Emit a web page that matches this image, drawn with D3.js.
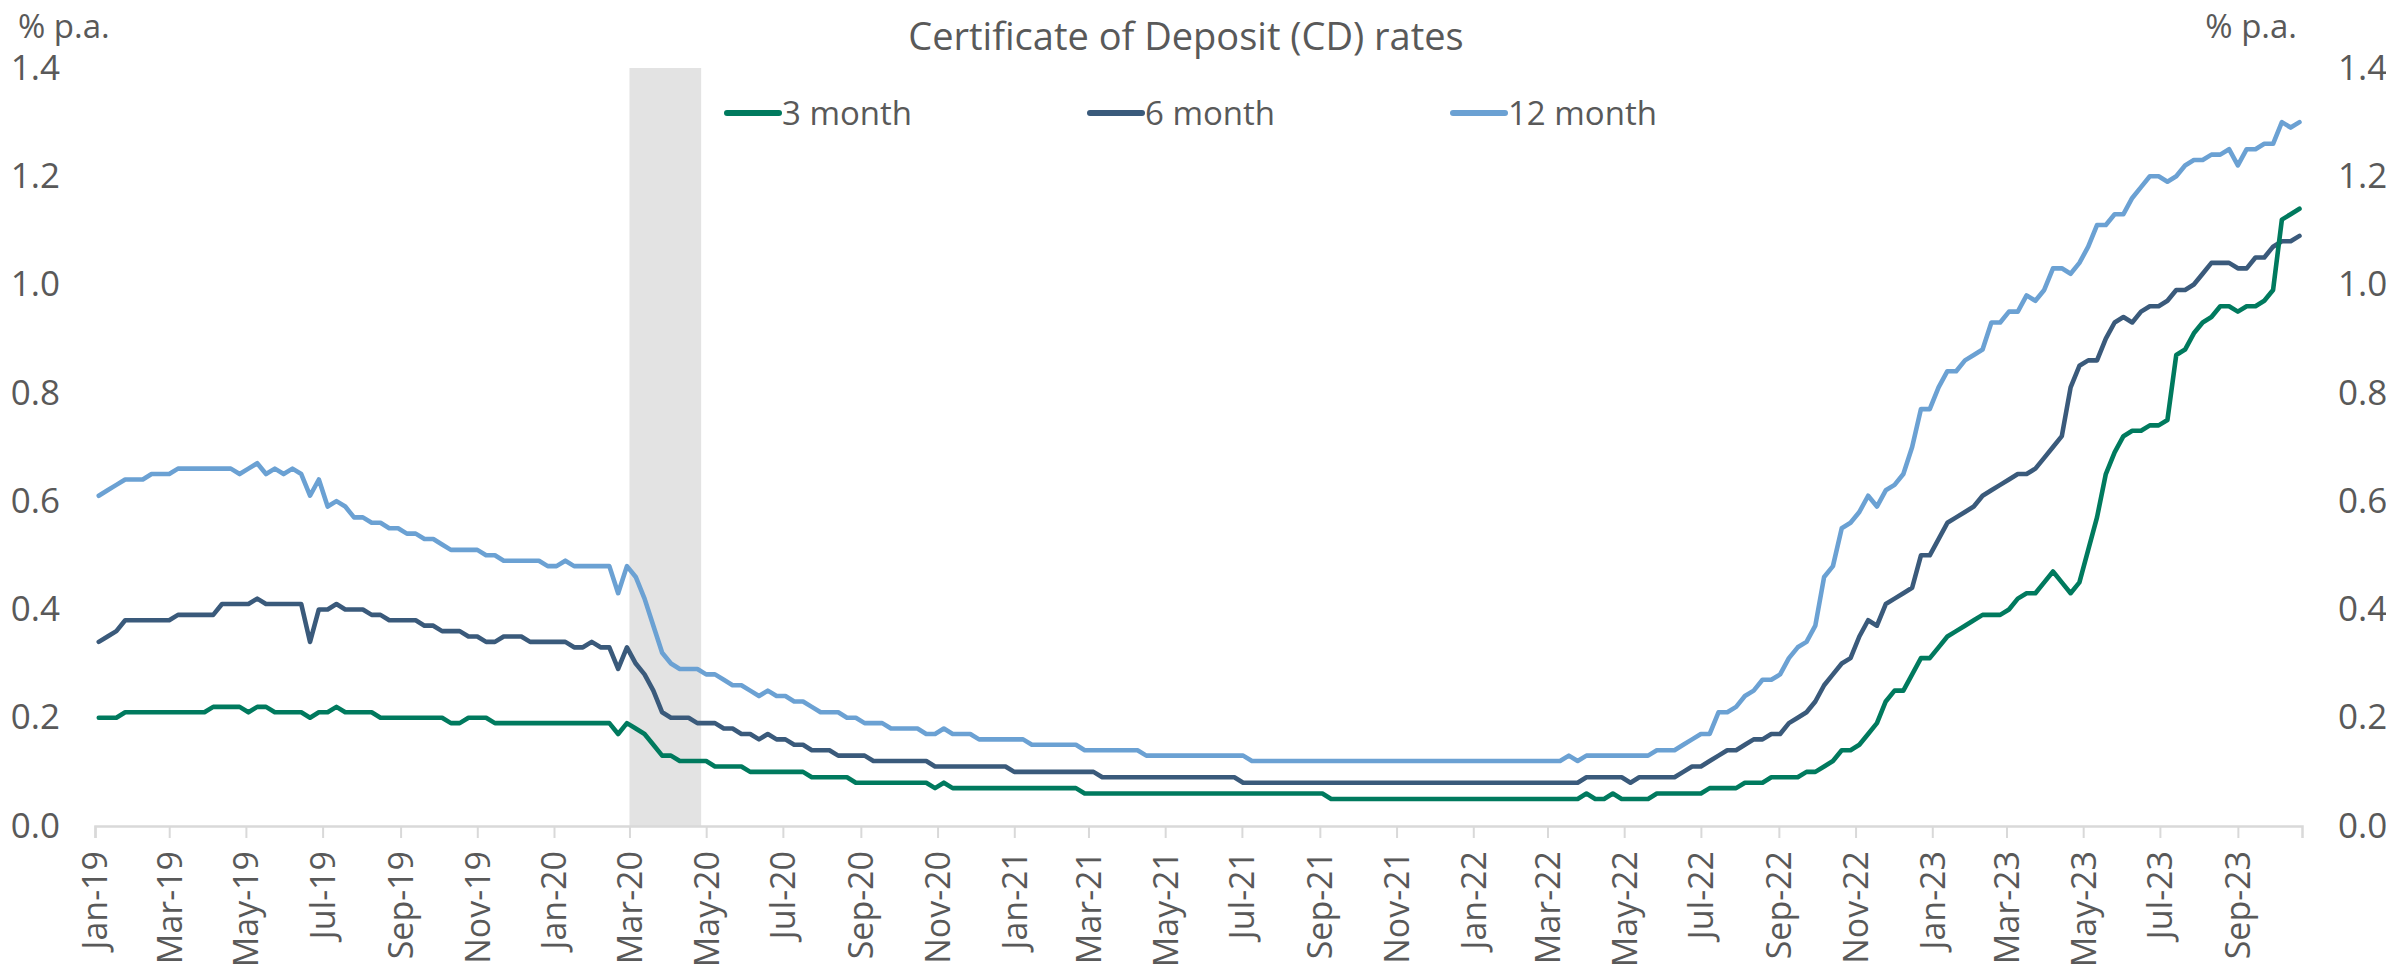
<!DOCTYPE html>
<html>
<head>
<meta charset="utf-8">
<script src="https://cdn.jsdelivr.net/npm/d3@7"></script>
<style>
  html, body { margin: 0; padding: 0; background: #ffffff; }
  svg { display: block; }
  text { font-family: "Open Sans", "Noto Sans", sans-serif; fill: #595959; }
</style>
</head>
<body>
<svg id="chart" width="2386" height="966"></svg>
<script>
// Weekly observations, first one on this Friday
const firstWeek = "2019-01-04";

const seriesNames = ["3 month", "6 month", "12 month"];
const seriesColors = ["#007A5E", "#3A5A7B", "#6BA1D3"];

// 3 month CD rate, % p.a.
const rates3m = [
  0.20,0.20,0.20,0.21,0.21,0.21,0.21,0.21,0.21,0.21,
  0.21,0.21,0.21,0.22,0.22,0.22,0.22,0.21,0.22,0.22,
  0.21,0.21,0.21,0.21,0.20,0.21,0.21,0.22,0.21,0.21,
  0.21,0.21,0.20,0.20,0.20,0.20,0.20,0.20,0.20,0.20,
  0.19,0.19,0.20,0.20,0.20,0.19,0.19,0.19,0.19,0.19,
  0.19,0.19,0.19,0.19,0.19,0.19,0.19,0.19,0.19,0.17,
  0.19,0.18,0.17,0.15,0.13,0.13,0.12,0.12,0.12,0.12,
  0.11,0.11,0.11,0.11,0.10,0.10,0.10,0.10,0.10,0.10,
  0.10,0.09,0.09,0.09,0.09,0.09,0.08,0.08,0.08,0.08,
  0.08,0.08,0.08,0.08,0.08,0.07,0.08,0.07,0.07,0.07,
  0.07,0.07,0.07,0.07,0.07,0.07,0.07,0.07,0.07,0.07,
  0.07,0.07,0.06,0.06,0.06,0.06,0.06,0.06,0.06,0.06,
  0.06,0.06,0.06,0.06,0.06,0.06,0.06,0.06,0.06,0.06,
  0.06,0.06,0.06,0.06,0.06,0.06,0.06,0.06,0.06,0.06,
  0.05,0.05,0.05,0.05,0.05,0.05,0.05,0.05,0.05,0.05,
  0.05,0.05,0.05,0.05,0.05,0.05,0.05,0.05,0.05,0.05,
  0.05,0.05,0.05,0.05,0.05,0.05,0.05,0.05,0.05,0.06,
  0.05,0.05,0.06,0.05,0.05,0.05,0.05,0.06,0.06,0.06,
  0.06,0.06,0.06,0.07,0.07,0.07,0.07,0.08,0.08,0.08,
  0.09,0.09,0.09,0.09,0.10,0.10,0.11,0.12,0.14,0.14,
  0.15,0.17,0.19,0.23,0.25,0.25,0.28,0.31,0.31,0.33,
  0.35,0.36,0.37,0.38,0.39,0.39,0.39,0.40,0.42,0.43,
  0.43,0.45,0.47,0.45,0.43,0.45,0.51,0.57,0.65,0.69,
  0.72,0.73,0.73,0.74,0.74,0.75,0.87,0.88,0.91,0.93,
  0.94,0.96,0.96,0.95,0.96,0.96,0.97,0.99,1.12,1.13,
  1.14
];

// 6 month CD rate, % p.a.
const rates6m = [
  0.34,0.35,0.36,0.38,0.38,0.38,0.38,0.38,0.38,0.39,
  0.39,0.39,0.39,0.39,0.41,0.41,0.41,0.41,0.42,0.41,
  0.41,0.41,0.41,0.41,0.34,0.40,0.40,0.41,0.40,0.40,
  0.40,0.39,0.39,0.38,0.38,0.38,0.38,0.37,0.37,0.36,
  0.36,0.36,0.35,0.35,0.34,0.34,0.35,0.35,0.35,0.34,
  0.34,0.34,0.34,0.34,0.33,0.33,0.34,0.33,0.33,0.29,
  0.33,0.30,0.28,0.25,0.21,0.20,0.20,0.20,0.19,0.19,
  0.19,0.18,0.18,0.17,0.17,0.16,0.17,0.16,0.16,0.15,
  0.15,0.14,0.14,0.14,0.13,0.13,0.13,0.13,0.12,0.12,
  0.12,0.12,0.12,0.12,0.12,0.11,0.11,0.11,0.11,0.11,
  0.11,0.11,0.11,0.11,0.10,0.10,0.10,0.10,0.10,0.10,
  0.10,0.10,0.10,0.10,0.09,0.09,0.09,0.09,0.09,0.09,
  0.09,0.09,0.09,0.09,0.09,0.09,0.09,0.09,0.09,0.09,
  0.08,0.08,0.08,0.08,0.08,0.08,0.08,0.08,0.08,0.08,
  0.08,0.08,0.08,0.08,0.08,0.08,0.08,0.08,0.08,0.08,
  0.08,0.08,0.08,0.08,0.08,0.08,0.08,0.08,0.08,0.08,
  0.08,0.08,0.08,0.08,0.08,0.08,0.08,0.08,0.08,0.09,
  0.09,0.09,0.09,0.09,0.08,0.09,0.09,0.09,0.09,0.09,
  0.10,0.11,0.11,0.12,0.13,0.14,0.14,0.15,0.16,0.16,
  0.17,0.17,0.19,0.20,0.21,0.23,0.26,0.28,0.30,0.31,
  0.35,0.38,0.37,0.41,0.42,0.43,0.44,0.50,0.50,0.53,
  0.56,0.57,0.58,0.59,0.61,0.62,0.63,0.64,0.65,0.65,
  0.66,0.68,0.70,0.72,0.81,0.85,0.86,0.86,0.90,0.93,
  0.94,0.93,0.95,0.96,0.96,0.97,0.99,0.99,1.00,1.02,
  1.04,1.04,1.04,1.03,1.03,1.05,1.05,1.07,1.08,1.08,
  1.09
];

// 12 month CD rate, % p.a.
const rates12m = [
  0.61,0.62,0.63,0.64,0.64,0.64,0.65,0.65,0.65,0.66,
  0.66,0.66,0.66,0.66,0.66,0.66,0.65,0.66,0.67,0.65,
  0.66,0.65,0.66,0.65,0.61,0.64,0.59,0.60,0.59,0.57,
  0.57,0.56,0.56,0.55,0.55,0.54,0.54,0.53,0.53,0.52,
  0.51,0.51,0.51,0.51,0.50,0.50,0.49,0.49,0.49,0.49,
  0.49,0.48,0.48,0.49,0.48,0.48,0.48,0.48,0.48,0.43,
  0.48,0.46,0.42,0.37,0.32,0.30,0.29,0.29,0.29,0.28,
  0.28,0.27,0.26,0.26,0.25,0.24,0.25,0.24,0.24,0.23,
  0.23,0.22,0.21,0.21,0.21,0.20,0.20,0.19,0.19,0.19,
  0.18,0.18,0.18,0.18,0.17,0.17,0.18,0.17,0.17,0.17,
  0.16,0.16,0.16,0.16,0.16,0.16,0.15,0.15,0.15,0.15,
  0.15,0.15,0.14,0.14,0.14,0.14,0.14,0.14,0.14,0.13,
  0.13,0.13,0.13,0.13,0.13,0.13,0.13,0.13,0.13,0.13,
  0.13,0.12,0.12,0.12,0.12,0.12,0.12,0.12,0.12,0.12,
  0.12,0.12,0.12,0.12,0.12,0.12,0.12,0.12,0.12,0.12,
  0.12,0.12,0.12,0.12,0.12,0.12,0.12,0.12,0.12,0.12,
  0.12,0.12,0.12,0.12,0.12,0.12,0.12,0.13,0.12,0.13,
  0.13,0.13,0.13,0.13,0.13,0.13,0.13,0.14,0.14,0.14,
  0.15,0.16,0.17,0.17,0.21,0.21,0.22,0.24,0.25,0.27,
  0.27,0.28,0.31,0.33,0.34,0.37,0.46,0.48,0.55,0.56,
  0.58,0.61,0.59,0.62,0.63,0.65,0.70,0.77,0.77,0.81,
  0.84,0.84,0.86,0.87,0.88,0.93,0.93,0.95,0.95,0.98,
  0.97,0.99,1.03,1.03,1.02,1.04,1.07,1.11,1.11,1.13,
  1.13,1.16,1.18,1.20,1.20,1.19,1.20,1.22,1.23,1.23,
  1.24,1.24,1.25,1.22,1.25,1.25,1.26,1.26,1.30,1.29,
  1.30
];

const yTicks = [0.0, 0.2, 0.4, 0.6, 0.8, 1.0, 1.2, 1.4];
const shadedPeriod = ["2020-03-01", "2020-04-27"];
const axisRange = ["2019-01-01", "2023-10-22"];

const title = "Certificate of Deposit (CD) rates";
const unitLabel = "% p.a.";

// ---------------------------------------------------------------
const svg = d3.select("#chart");
const parse = d3.utcParse("%Y-%m-%d");
const start = parse(firstWeek);
const dates = rates3m.map((_, i) => d3.utcDay.offset(start, 7 * i));

const x = d3.scaleUtc()
  .domain(axisRange.map(parse))
  .range([95, 2302]);

const y = d3.scaleLinear()
  .domain([0, 1.4])
  .range([826, 68]);

// shaded period
svg.append("rect")
  .attr("x", x(parse(shadedPeriod[0])))
  .attr("y", y(1.4))
  .attr("width", x(parse(shadedPeriod[1])) - x(parse(shadedPeriod[0])))
  .attr("height", y(0) - y(1.4))
  .attr("fill", "#e3e3e3");

// x axis
const xAxis = d3.axisBottom(x)
  .ticks(d3.utcMonth.every(2))
  .tickFormat(d3.utcFormat("%b-%y"))
  .tickSize(12)
  .tickPadding(0);

const gx = svg.append("g")
  .attr("transform", `translate(0,${y(0)})`)
  .call(xAxis);
gx.select(".domain").attr("stroke", "#d9d9d9").attr("stroke-width", 2.5);
gx.selectAll(".tick line").attr("stroke", "#d9d9d9").attr("stroke-width", 2);
gx.selectAll(".tick text")
  .attr("fill", "#595959")
  .attr("font-size", 34)
  .attr("text-anchor", "end")
  .attr("transform", "translate(0,25) rotate(-90)")
  .attr("x", 0)
  .attr("y", 0)
  .attr("dy", "0.35em");

// y axes, both sides, labels only
const yFmt = d3.format(".1f");
const leftAxis = svg.append("g").attr("transform", "translate(60,0)")
  .call(d3.axisLeft(y).tickValues(yTicks).tickFormat(yFmt).tickSize(0).tickPadding(0));
const rightAxis = svg.append("g").attr("transform", "translate(2338,0)")
  .call(d3.axisRight(y).tickValues(yTicks).tickFormat(yFmt).tickSize(0).tickPadding(0));
[leftAxis, rightAxis].forEach(g => {
  g.select(".domain").remove();
  g.selectAll(".tick text").attr("fill", "#595959").attr("font-size", 35);
});

// unit labels
svg.append("text").attr("x", 18).attr("y", 38)
  .attr("font-size", 33).text(unitLabel);
svg.append("text").attr("x", 2297).attr("y", 38)
  .attr("font-size", 33).attr("text-anchor", "end").text(unitLabel);

// title
svg.append("text").attr("x", 1186).attr("y", 50)
  .attr("font-size", 38).attr("text-anchor", "middle").text(title);

// lines
const series = [
  { name: seriesNames[0], color: seriesColors[0], values: rates3m },
  { name: seriesNames[1], color: seriesColors[1], values: rates6m },
  { name: seriesNames[2], color: seriesColors[2], values: rates12m }
];

const line = d3.line()
  .x((d, i) => x(dates[i]))
  .y(d => y(d));

svg.append("g")
  .selectAll("path")
  .data([series[2], series[1], series[0]])
  .join("path")
  .attr("d", s => line(s.values))
  .attr("fill", "none")
  .attr("stroke", s => s.color)
  .attr("stroke-width", 4.6)
  .attr("stroke-linejoin", "round")
  .attr("stroke-linecap", "round");

// legend
const legendX = d3.scalePoint().domain(seriesNames).range([725, 1451]);
const legend = svg.append("g")
  .selectAll("g")
  .data(series)
  .join("g")
  .attr("transform", s => `translate(${legendX(s.name)},113)`);
legend.append("line")
  .attr("x1", 2).attr("x2", 54).attr("y1", 0).attr("y2", 0)
  .attr("stroke", s => s.color)
  .attr("stroke-width", 6)
  .attr("stroke-linecap", "round");
legend.append("text")
  .attr("x", 57).attr("y", 0).attr("dy", "0.35em")
  .attr("font-size", 33)
  .text(s => s.name);
</script>
</body>
</html>
